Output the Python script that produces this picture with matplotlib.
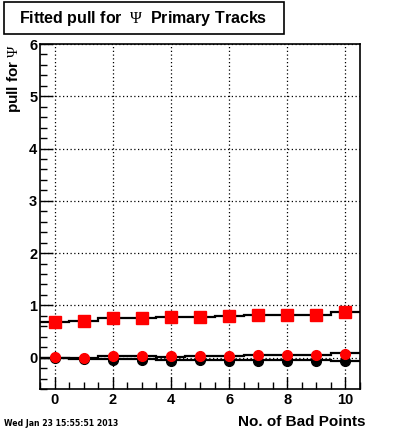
import numpy as np
import matplotlib
matplotlib.use("Agg")
import matplotlib.pyplot as plt
from matplotlib.ticker import MultipleLocator
from matplotlib.patches import Rectangle

plt.rcParams["mathtext.fontset"] = "custom"
plt.rcParams["mathtext.rm"] = "Liberation Serif"
plt.rcParams["mathtext.it"] = "Liberation Serif"
plt.rcParams["mathtext.bf"] = "Liberation Serif"

bad_points = [0, 1, 2, 3, 4, 5, 6, 7, 8, 9, 10]
sigma_pull = [0.69, 0.70, 0.75, 0.76, 0.77, 0.78, 0.79, 0.81, 0.81, 0.82, 0.88]
sigma_err = [0.03, 0.02, 0.03, 0.02, 0.03, 0.02, 0.03, 0.02, 0.03, 0.02, 0.02]
mean_pull_red = [0.01, 0.00, 0.03, 0.03, 0.03, 0.04, 0.03, 0.05, 0.05, 0.05, 0.07]
mean_pull_black = [0.00, -0.02, -0.04, -0.04, -0.06, -0.05, -0.06, -0.06, -0.06, -0.06, -0.07]
hist_upper = [0.00, -0.01, 0.03, 0.03, 0.02, 0.03, 0.03, 0.06, 0.06, 0.06, 0.08]
hist_lower = [0.00, -0.02, -0.02, -0.02, -0.05, -0.05, -0.05, -0.05, -0.05, -0.05, -0.07]

title = "Fitted pull for $\\ \\mathrm{\\Psi}\\ $ Primary Tracks"
xlabel = "No. of Bad Points"
ylabel = "pull for $\\mathrm{\\Psi}$"
datestamp = "Wed Jan 23 15:55:51 2013"

W, H = 400, 433
fig = plt.figure(figsize=(W / 100, H / 100), dpi=100)
ax = fig.add_axes([40 / W, 1 - 389 / H, 320 / W, 345 / H])
ax.set_xlim(-0.5, 10.5)
ax.set_ylim(-0.6, 6.0)

x = np.array(bad_points)
edges = np.arange(-0.5, 11.0, 1.0)

def step(vals):
    ax.stairs(np.array(vals), edges, color="black", linewidth=1.6, baseline=None, zorder=2)

step(sigma_pull)
ax.errorbar(x, sigma_pull, yerr=sigma_err, fmt="none", ecolor="black", elinewidth=1.5, capsize=0, zorder=2)
step(hist_upper)
step(hist_lower)

ax.plot(x, mean_pull_black, "o", color="black", markersize=7, zorder=3)
ax.plot(x, mean_pull_red, "o", color="red", markersize=7, zorder=4)
ax.plot(x, sigma_pull, "s", color="red", markersize=8.5, zorder=4)

for gx in [0, 2, 4, 6, 8, 10]:
    ax.axvline(gx, color="black", linestyle=(0, (1, 2)), linewidth=0.9, zorder=1)
for gy in [0, 1, 2, 3, 4, 5, 6]:
    ax.axhline(gy, color="black", linestyle=(0, (1, 2)), linewidth=0.9, zorder=1)

ax.xaxis.set_major_locator(MultipleLocator(2))
ax.xaxis.set_minor_locator(MultipleLocator(0.5))
ax.yaxis.set_major_locator(MultipleLocator(1))
ax.yaxis.set_minor_locator(MultipleLocator(0.2))
ax.tick_params(which="major", direction="in", length=9, width=1, top=False, right=False)
ax.tick_params(axis="x", which="major", pad=3)
ax.tick_params(axis="y", which="major", pad=2)
ax.tick_params(which="minor", direction="in", length=5, width=1, top=False, right=False)
for lab in ax.get_xticklabels() + ax.get_yticklabels():
    lab.set_fontweight("bold")
    lab.set_fontsize(10.5)
    lab.set_family("Liberation Sans")
for s in ax.spines.values():
    s.set_linewidth(1.2)

fig.text(366 / W, 1 - 422 / H, xlabel, ha="right", va="center", fontsize=11,
         fontweight="bold", family="Liberation Sans")
fig.text(14 / W, 1 - 44 / H, ylabel, ha="center", va="top", rotation=90, fontsize=11,
         fontweight="bold", family="Liberation Sans")

fig.patches.append(Rectangle((4 / W, 1 - 34 / H), 280 / W, 32 / H, transform=fig.transFigure,
                             facecolor="white", edgecolor="black", linewidth=1.2))
fig.text(143 / W, 1 - 18 / H, title, ha="center", va="center", fontsize=11.5,
         fontweight="bold", family="Liberation Sans")
fig.text(4 / W, 1 - 424 / H, datestamp, ha="left", va="center", fontsize=5.6,
         fontweight="bold", family="DejaVu Sans")

fig.savefig("out.png", dpi=100)
